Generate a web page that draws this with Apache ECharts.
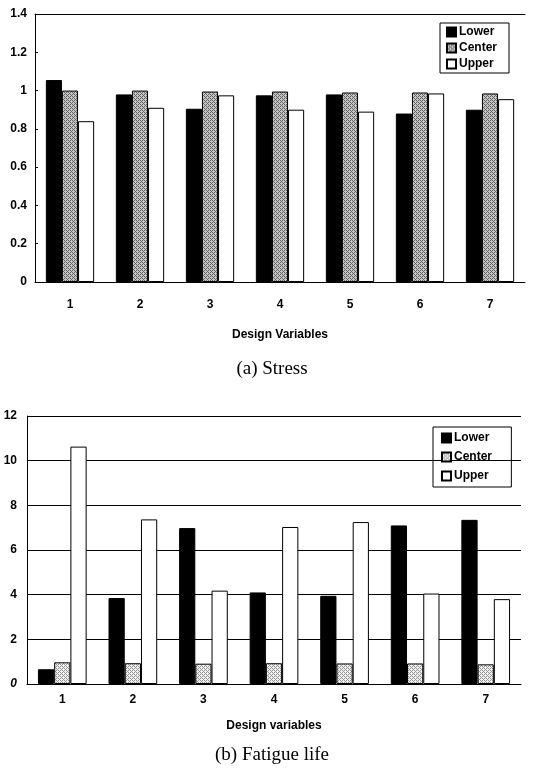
<!DOCTYPE html>
<html><head><meta charset="utf-8">
<script src="https://cdn.jsdelivr.net/npm/echarts@6/dist/echarts.min.js"></script>
<style>html,body{margin:0;padding:0;background:#fff}#c{width:544px;height:772px}</style>
</head><body><div id="c"></div>
<script>
const categories = ['1','2','3','4','5','6','7'];
const seriesNames = ['Lower','Center','Upper'];
// (a) Stress
const stressLower  = [1.055, 0.98, 0.905, 0.975, 0.98, 0.88, 0.90];
const stressCenter = [1.0, 1.0, 0.995, 0.995, 0.99, 0.99, 0.985];
const stressUpper  = [0.84, 0.91, 0.975, 0.90, 0.89, 0.985, 0.955];
// (b) Fatigue life
const fatigueLower  = [0.66, 3.85, 6.98, 4.1, 3.95, 7.1, 7.35];
const fatigueCenter = [0.97, 0.93, 0.91, 0.93, 0.92, 0.92, 0.88];
const fatigueUpper  = [10.63, 7.37, 4.18, 7.03, 7.25, 4.05, 3.8];
const stressTicks = [0, 0.2, 0.4, 0.6, 0.8, 1, 1.2, 1.4];
const fatigueTicks = [0, 2, 4, 6, 8, 10, 12];

function pattern(bg, dot){
  const cv = document.createElement('canvas'); cv.width = 4; cv.height = 4;
  const g = cv.getContext('2d');
  g.fillStyle = bg; g.fillRect(0,0,4,4);
  g.fillStyle = dot;
  g.fillRect(0,0,1,1); g.fillRect(2,2,1,1); g.fillRect(2,0,1,1); g.fillRect(0,2,1,1); g.fillRect(1,1,1,1); g.fillRect(3,3,1,1);
  return {image: cv, repeat: 'repeat'};
}
const darkPat = pattern('#c4c4c4', '#666');
const lightPat = pattern('#eeeeee', '#9a9a9a');

const chart = echarts.init(document.getElementById('c'), null, {renderer:'canvas'});
const FONT = 'Liberation Sans';
const lab = {fontFamily: FONT, fontWeight: 'bold', fontSize: 12, color: '#000'};

function bars(name, data, color, xi, yi){
  return {type:'bar', name, data, xAxisIndex: xi, yAxisIndex: yi,
    barGap: '0%', barCategoryGap: '31%',
    itemStyle: {color, borderColor:'#000', borderWidth: 1}};
}

chart.setOption({
  animation: false,
  textStyle: {fontFamily: FONT},
  grid: [
    {left: 35, top: 14, width: 490, height: 268},
    {left: 27, top: 416, width: 494, height: 268}
  ],
  legend: [
    {data: seriesNames, orient:'vertical', left: 440, top: 23, itemWidth: 9, itemHeight: 9, itemGap: 4,
     textStyle: {...lab, fontSize: 12, padding:[0,0,0,-2]}, borderColor:'#000', borderWidth:1, padding:[3,12,3,6],
     icon:'rect'},
    {data: seriesNames.map(n => ({name: n + ' ', icon: 'rect'})), orient:'vertical', left: 433, top: 427, itemWidth: 9, itemHeight: 9, itemGap: 7,
     textStyle: {...lab, fontSize: 12, padding:[0,0,0,-2]}, borderColor:'#000', borderWidth:1, padding:[5,16,5,8]}
  ],
  xAxis: [
    {gridIndex:0, type:'category', data: categories, name:'Design Variables', nameLocation:'middle', nameGap: 47,
     nameTextStyle: {...lab, fontSize: 12},
     axisLine:{lineStyle:{color:'#000'}}, axisTick:{show:false}, axisLabel:{...lab, margin: 17}},
    {gridIndex:0, type:'category', data: categories, position:'top',
     axisLine:{show:true, lineStyle:{color:'#000'}}, axisTick:{show:false}, axisLabel:{show:false}},
    {gridIndex:1, type:'category', data: categories, name:'Design variables', nameLocation:'middle', nameGap: 36,
     nameTextStyle: {...lab, fontSize: 12},
     axisLine:{lineStyle:{color:'#000'}}, axisTick:{show:false}, axisLabel:{...lab, margin: 10}}
  ],
  yAxis: [
    {gridIndex:0, type:'value', min: stressTicks[0], max: stressTicks[stressTicks.length-1], interval: 0.2,
     axisLine:{show:true, lineStyle:{color:'#000'}}, axisTick:{show:true, inside:true, length:3, lineStyle:{color:'#000'}}, splitLine:{show:false},
     axisLabel:{...lab, margin: 8, formatter: v => String(+v.toFixed(1))}},
    {gridIndex:1, type:'value', min: fatigueTicks[0], max: fatigueTicks[fatigueTicks.length-1], interval: 2,
     axisLine:{show:true, lineStyle:{color:'#000'}}, axisTick:{show:false},
     splitLine:{show:true, lineStyle:{color:'#000', width:1}},
     axisLabel:{...lab, margin: 10, formatter: v => v === 0 ? '{i|0}' : String(v),
       rich:{i:{fontFamily: FONT, fontWeight:'bold', fontStyle:'italic', fontSize: 12, color:'#000'}}}}
  ],
  title: [
    {text:'(a) Stress', left:'center', top: 355, textStyle:{fontFamily:'Liberation Serif', fontWeight:'normal', fontSize: 19, color:'#000'}},
    {text:'(b) Fatigue life', left:'center', top: 741, textStyle:{fontFamily:'Liberation Serif', fontWeight:'normal', fontSize: 19, color:'#000'}}
  ],
  series: [
    bars('Lower', stressLower, '#000', 0, 0),
    bars('Center', stressCenter, darkPat, 0, 0),
    bars('Upper', stressUpper, '#fff', 0, 0),
    bars('Lower ', fatigueLower, '#000', 2, 1),
    bars('Center ', fatigueCenter, lightPat, 2, 1),
    bars('Upper ', fatigueUpper, '#fff', 2, 1)
  ]
});
</script></body></html>
